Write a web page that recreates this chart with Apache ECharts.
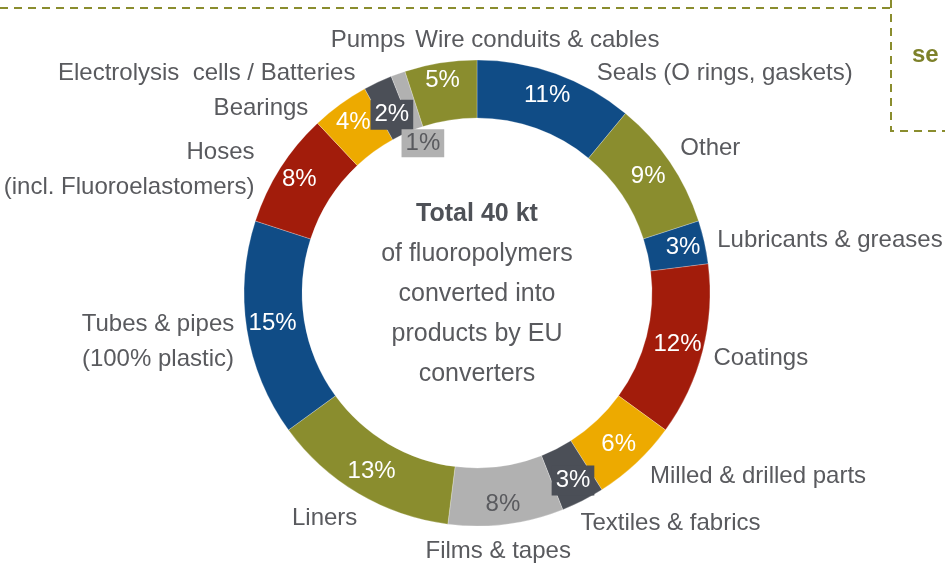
<!DOCTYPE html>
<html><head><meta charset="utf-8">
<script src="https://cdn.jsdelivr.net/npm/echarts@6/dist/echarts.min.js"></script>
<style>html,body{margin:0;padding:0;background:#fff}#c{width:945px;height:581px}</style>
</head><body><div id="c"></div>
<script>
// ---- data ----
const categories = [
  'Seals (O rings, gaskets)', 'Other', 'Lubricants & greases', 'Coatings',
  'Milled & drilled parts', 'Textiles & fabrics', 'Films & tapes', 'Liners',
  'Tubes & pipes\n(100% plastic)', 'Hoses\n(incl. Fluoroelastomers)', 'Bearings',
  'Electrolysis  cells / Batteries', 'Pumps', 'Wire conduits & cables'
];
const shares = [11, 9, 3, 12, 6, 3, 8, 13, 15, 8, 4, 2, 1, 5];
const centerLines = ['Total 40 kt', 'of fluoropolymers', 'converted into', 'products by EU', 'converters'];
const sideText = 'se';

// ---- styling ----
const NAVY = '#104c86', OLIVE = '#8a8d2e', RED = '#a21c0b', ORANGE = '#edaa00', DGRAY = '#4b4f57', LGRAY = '#b1b1b1';
const sliceColors = [NAVY, OLIVE, NAVY, RED, ORANGE, DGRAY, LGRAY, OLIVE, NAVY, RED, ORANGE, DGRAY, LGRAY, OLIVE];
const TXT = '#595a5e';
const FONT = '"Liberation Sans Narrow", "Arial Narrow", "Liberation Sans", Arial, sans-serif';
// label nudges [dx, dy, align]
const nameNudge = [
  [33, 7], [-1, -9], [0, 0], [-2, 5], [3, 8], [-11, 16], [-14, 19, 'center'], [8, 18],
  [-76, 11, 'center'], [-14, 6], [-22, 10], [-14, -2], [15, -26], [-19, -15, 'left']
];
const pctNudge = [
  [0, -3], [0, 0], [4, 0], [0, 0], [0, 0], [2, 3], [0, 6], [0, 0],
  [0, -2], [-3, -3], [-2, -3], [3, 9], [16, 45], [-2, -8]
];

const pctData = shares.map((v, i) => {
  const d = { name: categories[i], value: v, itemStyle: { color: sliceColors[i] } };
  if (sliceColors[i] === LGRAY) {
    d.label = { color: TXT };
  }
  if (sliceColors[i] === DGRAY) {
    d.label = { backgroundColor: DGRAY, padding: [4, 4, 2, 4] };
  }
  if (i === 12) {
    d.label = { color: TXT, backgroundColor: LGRAY, padding: [3, 4, 1, 4] };
  }
  return d;
});
const nameData = shares.map((v, i) => ({ name: categories[i], value: v }));

const chart = echarts.init(document.getElementById('c'), null, { renderer: 'canvas' });
chart.setOption({
  animation: false,
  backgroundColor: '#fff',
  series: [
    {
      type: 'pie', center: [477, 293], radius: [175, 233], startAngle: 90, clockwise: true,
      avoidLabelOverlap: false, silent: true,
      itemStyle: { borderColor: 'rgba(255,255,255,0.5)', borderWidth: 0.5 },
      label: { show: true, position: 'inside', formatter: '{c}%', color: '#fff', fontSize: 24, fontFamily: FONT },
      labelLine: { show: false },
      labelLayout: p => ({ dx: pctNudge[p.dataIndex][0], dy: pctNudge[p.dataIndex][1] }),
      data: pctData
    },
    {
      type: 'pie', center: [477, 293], radius: [175, 233], startAngle: 90, clockwise: true,
      avoidLabelOverlap: false, silent: true, z: 1,
      itemStyle: { color: 'rgba(0,0,0,0)' },
      label: { show: true, position: 'outside', formatter: '{b}', color: TXT, fontSize: 24, fontFamily: FONT, lineHeight: 35, distanceToLabelLine: 5 },
      labelLine: { show: false, length: 8, length2: 0 },
      labelLayout: p => {
        const n = nameNudge[p.dataIndex];
        const o = { dx: n[0], dy: n[1] };
        if (n[2]) o.align = n[2];
        return o;
      },
      data: nameData
    }
  ],
  graphic: [
    {
      type: 'text', x: 477, y: 294, silent: true,
      style: {
        text: centerLines.map((t, i) => i === 0 ? '{b|' + t + '}' : '{n|' + t + '}').join('\n'),
        align: 'center', verticalAlign: 'middle',
        rich: {
          b: { fontSize: 25, fontWeight: 'bold', fill: '#4e5157', fontFamily: FONT, lineHeight: 40, align: 'center' },
          n: { fontSize: 25, fill: TXT, fontFamily: FONT, lineHeight: 40, align: 'center' }
        }
      }
    },
    {
      type: 'polyline', silent: true,
      shape: { points: [[0, 8], [891, 8]] },
      style: { stroke: OLIVE, lineWidth: 2, lineDash: [8, 6], fill: null }
    },
    {
      type: 'polyline', silent: true,
      shape: { points: [[891, 0], [891, 131], [945, 131]] },
      style: { stroke: OLIVE, lineWidth: 2, lineDash: [8, 6], fill: null }
    },
    {
      type: 'text', x: 912, y: 55, silent: true,
      style: { text: sideText, fill: '#7d812a', fontSize: 24, fontWeight: 'bold', fontFamily: FONT, verticalAlign: 'middle' }
    }
  ]
});
</script></body></html>
